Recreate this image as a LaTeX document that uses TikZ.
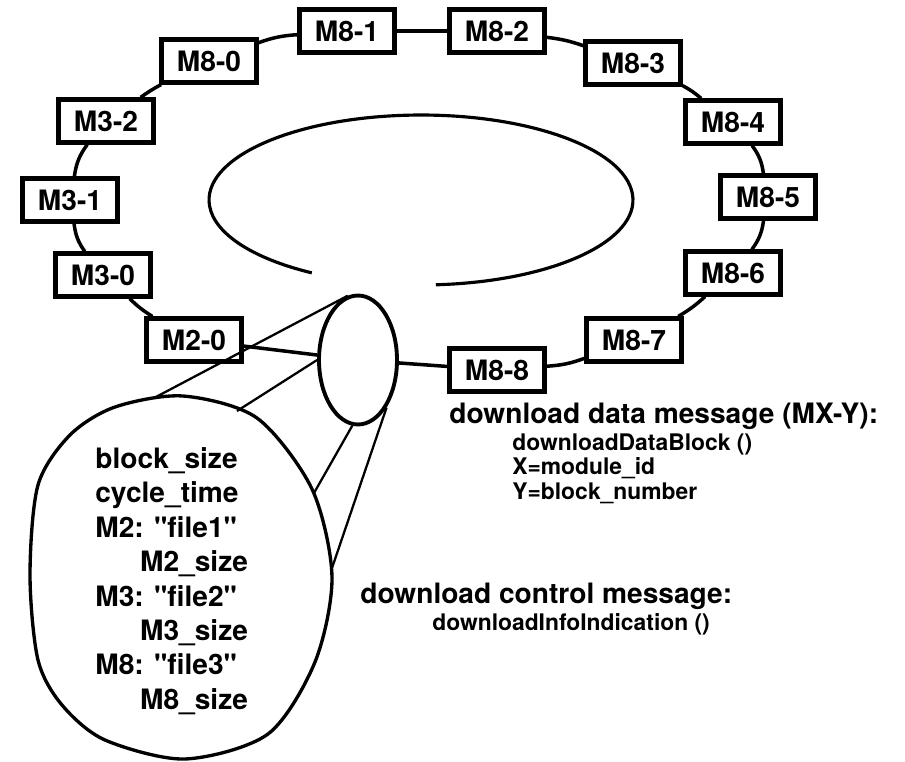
\documentclass[tikz,border=0pt]{standalone}
\usepackage{fontspec}
\setmainfont{TeX Gyre Heros}[Ligatures=TeXOff]
\usetikzlibrary{positioning,shapes.geometric}
\tikzset{
  mod/.style={draw,line width=2.4pt,fill=white,minimum width=1.9cm,minimum height=0.86cm,
    inner sep=0pt,font=\bfseries\fontsize{16}{18}\selectfont},
  ring/.style={line width=2pt},
  cone/.style={line width=1.3pt},
  zoomed/.style={ellipse,draw,inner sep=0pt,fill=white},
  tag/.style={inner sep=0pt,align=left,font=\bfseries\fontsize{16}{19.6}\selectfont},
  subtag/.style={inner sep=0pt,align=left,font=\bfseries\fontsize{13}{14.2}\selectfont},
}

\begin{document}
\begin{tikzpicture}[x=0.02cm,y=-0.02cm]
  \useasboundingbox (0,0) rectangle (905,761);
  % inner loop, open at the bottom
  \draw[line width=1.8pt] ([shift={(274:4.24cm and 1.7cm)}]421,200)
    arc[start angle=274,end angle=599,x radius=4.24cm,y radius=1.7cm];
  % modules on the ring
  \foreach \n/\t/\x/\y in {m20/M2-0/194/340,m30/M3-0/103/275,m31/M3-1/70/200,m32/M3-2/106/121,
      m80/M8-0/209/61,m81/M8-1/347/31,m82/M8-2/497/31,m83/M8-3/633/63,m84/M8-4/733/122,
      m85/M8-5/768/197,m86/M8-6/733/273,m87/M8-7/634/340,m88/M8-8/497/370}{
    \node[mod] (\n) at (\x,\y) {\t};
  }
  \node[zoomed,line width=2.2pt,minimum width=1.56cm,minimum height=2.58cm] (sel) at (358,360) {};
  \foreach \a/\b/\k in {m20/m30/6,m30/m31/14,m31/m32/14,m32/m80/4,m80/m81/8,m81/m82/0,
      m82/m83/6,m83/m84/6,m84/m85/14,m85/m86/14,m86/m87/6,m87/m88/8,m88/sel/0,sel/m20/0}{
    \draw[ring] (\a) to[bend left=\k] (\b);
  }
  % enlarged view
  \draw[line width=1.9pt] plot[smooth cycle] coordinates {(183,396) (257,418) (312,489) (332,577)
    (315,662) (268,734) (185,759) (105,740) (62,705) (38,660) (30,575) (38,485) (70,435) (115,407)};
  \coordinate (b1) at (154,398);
  \coordinate (b2) at (237,411);
  \coordinate (b3) at (314,493);
  \coordinate (b4) at (332,568);
  % zoom cone
  \draw[cone] (sel.99) -- (b1);
  \draw[cone] (sel.west) -- (b2);
  \draw[cone] (sel.265) -- (b3);
  \draw[cone] (sel.301) -- (b4);
  \node[tag,anchor=north west] (params) at (95,447) {block\_size\\cycle\_time\\M2: "file1"\\
    \hspace*{25.5pt}M2\_size\\M3: "file2"\\\hspace*{25.5pt}M3\_size\\M8: "file3"\\\hspace*{25.5pt}M8\_size};
  % messages
  \node[tag,anchor=base west] (dmsg) at (449,423) {download data message (MX-Y):};
  \node[subtag,anchor=north west] (dblk) at (512,433) {downloadDataBlock ()\\X=module\_id\\Y=block\_number};
  \node[tag,anchor=base west] (cmsg) at (360,603) {download control message:};
  \node[subtag,anchor=base west] (cinf) at (432,630) {downloadInfoIndication ()};
\end{tikzpicture}
\end{document}
